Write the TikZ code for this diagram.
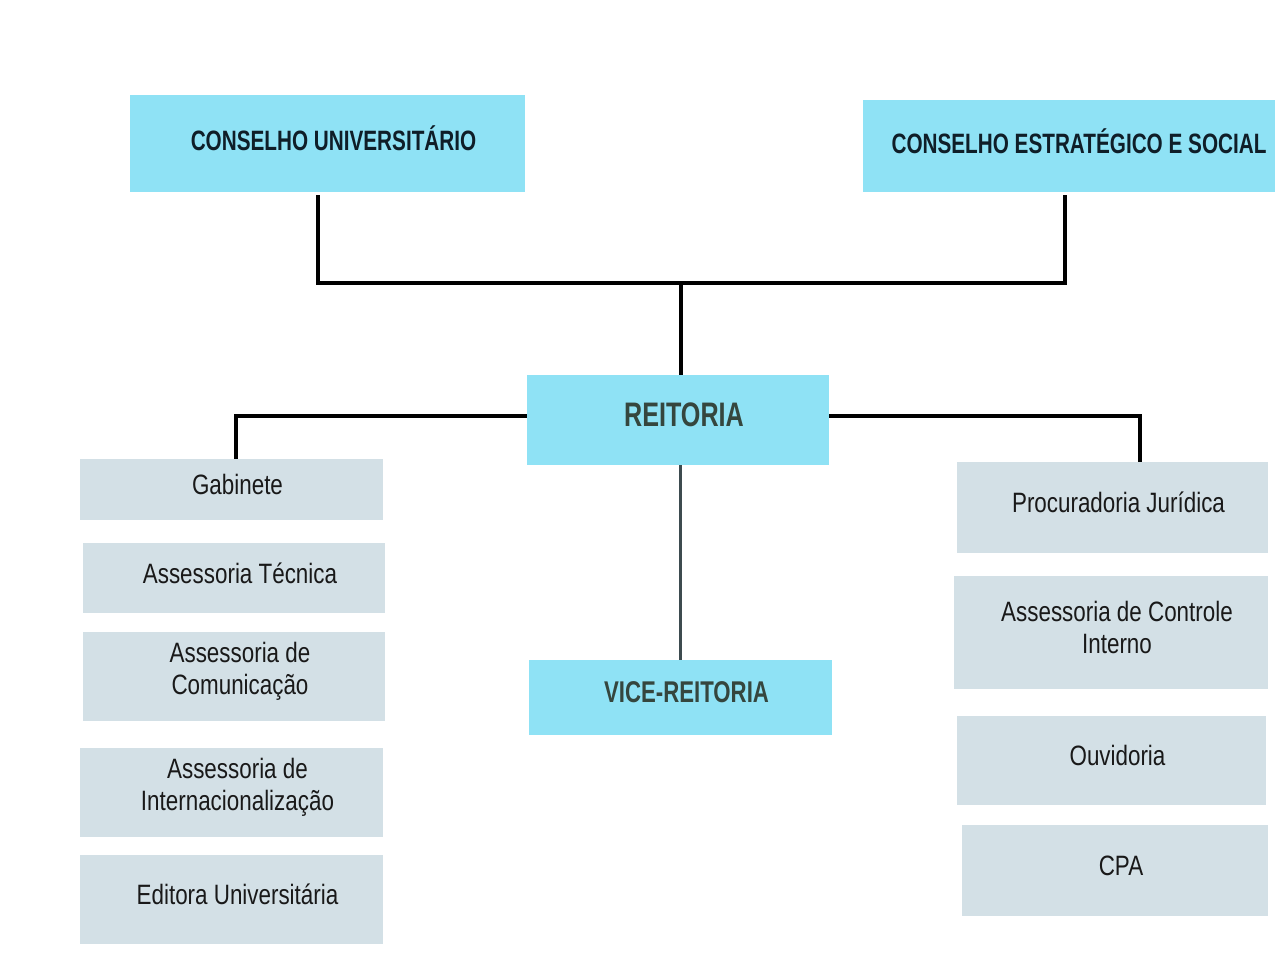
\documentclass[tikz,border=0pt]{standalone}
\usepackage{fontspec}
\setmainfont{Liberation Sans}
\newfontfamily\unitfont[FakeStretch=0.80]{Liberation Sans}
\newfontfamily\headfont[FakeStretch=0.74]{Liberation Sans}
\definecolor{councilcyan}{HTML}{8FE2F5}
\definecolor{unitgray}{HTML}{D3E0E6}
\definecolor{headink}{HTML}{0F1E28}
\definecolor{rectorink}{HTML}{35463E}
\definecolor{vicelink}{HTML}{3D4B4F}
\tikzset{
  % box shapes; their captions sit slightly right of and above the centre
  cbox/.style={fill=councilcyan, draw=none, inner sep=0pt},
  gbox/.style={fill=unitgray, draw=none, inner sep=0pt},
  caption/.style={xshift=6pt, yshift=5pt, align=center, inner sep=0pt},
  headtxt/.style={caption, text=headink, font=\headfont\bfseries\fontsize{28}{32}\selectfont},
  rectortxt/.style={caption, text=rectorink},
  unittxt/.style={caption, text=black!90, font=\unitfont\fontsize{28}{32}\selectfont},
  link/.style={draw=black, line width=3.6pt},
  vlink/.style={draw=vicelink, line width=3pt},
}
\begin{document}
\begin{tikzpicture}[x=1pt, y=-1pt]
  \useasboundingbox (0,0) rectangle (1275,965);
  \fill[white] (0,0) rectangle (1275,965);

  % councils
  \node[cbox, minimum width=395pt, minimum height=97pt,
        label={[headtxt]center:CONSELHO UNIVERSITÁRIO}] (cu) at (327.5,143.5) {};
  \node[cbox, minimum width=412pt, minimum height=92pt,
        label={[headtxt, xshift=4pt]center:CONSELHO ESTRATÉGICO E SOCIAL}] (ce) at (1069,146) {};

  % rectorate
  \node[cbox, minimum width=302pt, minimum height=90pt,
        label={[rectortxt, font=\headfont\bfseries\fontsize{34}{38}\selectfont]center:REITORIA}] (re) at (678,420) {};
  \node[cbox, minimum width=303pt, minimum height=75pt,
        label={[rectortxt, font=\headfont\bfseries\fontsize{30}{34}\selectfont]center:VICE-REITORIA}] (vr) at (680.5,697.5) {};

  % units on the left
  \node[gbox, minimum width=303pt, minimum height=61pt,
        label={[unittxt]center:Gabinete}] (gab) at (231.5,489.5) {};
  \node[gbox, minimum width=302pt, minimum height=70pt,
        label={[unittxt]center:Assessoria Técnica}] (tec) at (234,578) {};
  \node[gbox, minimum width=302pt, minimum height=89pt,
        label={[unittxt]center:{Assessoria de\\Comunicação}}] (com) at (234,676.5) {};
  \node[gbox, minimum width=303pt, minimum height=89pt,
        label={[unittxt]center:{Assessoria de\\Internacionalização}}] (int) at (231.5,792.5) {};
  \node[gbox, minimum width=303pt, minimum height=89pt,
        label={[unittxt]center:Editora Universitária}] (edi) at (231.5,899.5) {};

  % units on the right
  \node[gbox, minimum width=311pt, minimum height=91pt,
        label={[unittxt]center:Procuradoria Jurídica}] (pro) at (1112.5,507.5) {};
  \node[gbox, minimum width=314pt, minimum height=113pt,
        label={[unittxt]center:{Assessoria de Controle\\Interno}}] (aci) at (1111,632.5) {};
  \node[gbox, minimum width=309pt, minimum height=89pt,
        label={[unittxt]center:Ouvidoria}] (ouv) at (1111.5,760.5) {};
  \node[gbox, minimum width=306pt, minimum height=91pt,
        label={[unittxt]center:CPA}] (cpa) at (1115,870.5) {};

  % junction points
  \coordinate (jl) at (318,283);
  \coordinate (jr) at (1065,283);
  \coordinate (jm) at (681,283);
  \coordinate (ll) at (236,416);
  \coordinate (rr) at (1140,416);

  % connectors
  \draw[link] ([yshift=-3pt]cu.south -| jl) -- (jl) -- (jr) -- ([yshift=-3pt]ce.south -| jr);
  \draw[link] (jm) -- (re.north -| jm);
  \draw[link] (re.west |- ll) -- (ll) -- (gab.north -| ll);
  \draw[link] (re.east |- rr) -- (rr) -- (pro.north -| rr);
  \draw[vlink] (re.south -| vr.north) -- (vr.north);
\end{tikzpicture}
\end{document}
